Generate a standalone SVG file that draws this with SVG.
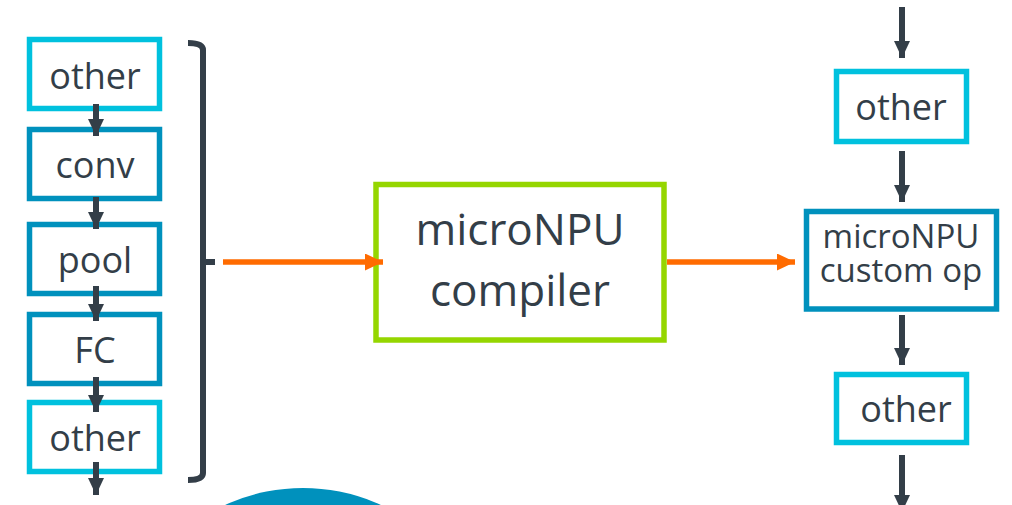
<svg xmlns="http://www.w3.org/2000/svg" width="1012" height="505" viewBox="0 0 1012 505">
<defs>
<style>
.box{fill:#fff;stroke-width:5.5}
.cy{stroke:#00C1DE}
.bl{stroke:#0091BD}
.gr{stroke:#95D600}
.t{font-family:"Open Sans","Liberation Sans",sans-serif;fill:#333E48;text-anchor:middle}
.dk{stroke:#333E48;stroke-width:6;fill:none}
.or{stroke:#FF6B00;stroke-width:5.5;fill:none}
</style>
<marker id="ad" markerUnits="userSpaceOnUse" viewBox="0 0 17 16" refX="17" refY="8" markerWidth="17" markerHeight="16" orient="auto"><path d="M0,0 L17,8 L0,16 Z" fill="#333E48"/></marker>
<marker id="ao" markerUnits="userSpaceOnUse" viewBox="0 0 18 17" refX="18" refY="8.5" markerWidth="18" markerHeight="17" orient="auto"><path d="M0,0 L18,8.5 L0,17 Z" fill="#FF6B00"/></marker>
</defs>
<circle cx="303" cy="675" r="187" fill="#0091BD"/>
<g id="n_other1"><rect class="box cy" x="29.5" y="39.5" width="130" height="69"/><text class="t" x="95" y="89" font-size="36">other</text></g>
<g id="n_conv"><rect class="box bl" x="29.5" y="129.5" width="130" height="69"/><text class="t" x="95" y="178" font-size="36">conv</text></g>
<g id="n_pool"><rect class="box bl" x="29.5" y="224.5" width="130" height="69"/><text class="t" x="95" y="273" font-size="36">pool</text></g>
<g id="n_fc"><rect class="box bl" x="29.5" y="314.5" width="130" height="69"/><text class="t" x="95" y="363" font-size="36">FC</text></g>
<g id="n_other2"><rect class="box cy" x="29.5" y="402.5" width="130" height="69"/><text class="t" x="95" y="451" font-size="36">other</text></g>
<g id="n_compiler"><rect class="box gr" x="376" y="184.5" width="288" height="155.5"/><text class="t" x="520" y="245" font-size="44">microNPU</text><text class="t" x="520" y="306" font-size="44">compiler</text></g>
<g id="n_other3"><rect class="box cy" x="836.5" y="71.5" width="130" height="70"/><text class="t" x="901" y="120" font-size="36">other</text></g>
<g id="n_custom"><rect class="box bl" x="806.5" y="211.5" width="190" height="97.5"/><text class="t" x="901" y="248" font-size="33">microNPU</text><text class="t" x="901" y="282" font-size="33">custom op</text></g>
<g id="n_other4"><rect class="box cy" x="836.5" y="374.5" width="130" height="68"/><text class="t" x="906" y="422" font-size="36">other</text></g>
<g id="connectors">
<path class="dk" d="M188,43 Q203,43 203,50 L203,473 Q203,480 188,480 M203,262 L215,262"/>
<line class="dk" x1="96" y1="104" x2="96" y2="136" marker-end="url(#ad)"/>
<line class="dk" x1="96" y1="197" x2="96" y2="229" marker-end="url(#ad)"/>
<line class="dk" x1="96" y1="286" x2="96" y2="321" marker-end="url(#ad)"/>
<line class="dk" x1="96" y1="377" x2="96" y2="412" marker-end="url(#ad)"/>
<line class="dk" x1="96" y1="462" x2="96" y2="495" marker-end="url(#ad)"/>
<line class="dk" x1="902" y1="7" x2="902" y2="58" marker-end="url(#ad)"/>
<line class="dk" x1="902" y1="151" x2="902" y2="202" marker-end="url(#ad)"/>
<line class="dk" x1="902" y1="315" x2="902" y2="365" marker-end="url(#ad)"/>
<line class="dk" x1="902" y1="455" x2="902" y2="512" marker-end="url(#ad)"/>
<line class="or" x1="223" y1="262" x2="383" y2="262" marker-end="url(#ao)"/>
<line class="or" x1="667" y1="262" x2="795" y2="262" marker-end="url(#ao)"/>
</g>
</svg>
